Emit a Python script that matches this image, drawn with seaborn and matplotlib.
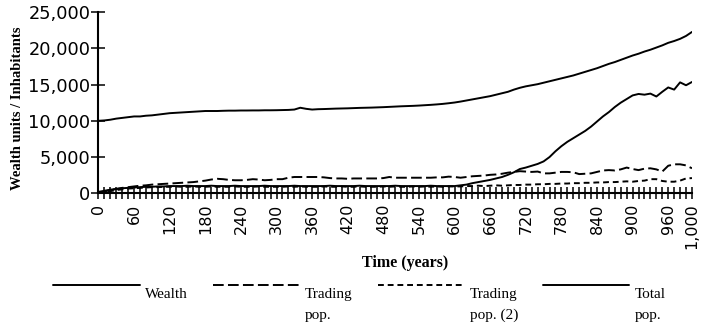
import matplotlib
matplotlib.use("Agg")
import matplotlib.pyplot as plt
from matplotlib.ticker import MultipleLocator
import seaborn as sns

# Simulation output, sampled every 10 years
years = list(range(0, 1001, 10))

wealth = [
    10000, 10050, 10150, 10300, 10400, 10500, 10600, 10600, 10700, 10750,
    10850, 10950, 11050, 11100, 11150, 11200, 11250, 11300, 11350, 11350,
    11350, 11380, 11400, 11400, 11420, 11420, 11430, 11430, 11450, 11450,
    11460, 11480, 11500, 11550, 11800, 11650, 11550, 11600, 11620, 11650,
    11680, 11700, 11720, 11750, 11780, 11800, 11820, 11850, 11880, 11920,
    11960, 12000, 12030, 12060, 12100, 12150, 12200, 12260, 12330, 12420,
    12520, 12650, 12800, 12950, 13100, 13250, 13400, 13600, 13800, 14000,
    14300, 14550, 14750, 14900, 15050, 15250, 15450, 15650, 15850, 16050,
    16250, 16500, 16750, 17000, 17250, 17550, 17850, 18100, 18400, 18700,
    19000, 19250, 19550, 19800, 20100, 20400, 20750, 21000, 21300, 21700,
    22250,
]

trading_pop = [
    0, 250, 450, 600, 750, 850, 950, 1050, 1100, 1200,
    1250, 1300, 1350, 1400, 1450, 1500, 1550, 1650, 1750, 1900,
    2000, 1950, 1850, 1800, 1800, 1850, 1950, 1900, 1800, 1850,
    1950, 1950, 2150, 2250, 2250, 2250, 2250, 2250, 2200, 2100,
    2050, 2050, 2000, 2050, 2050, 2050, 2050, 2050, 2100, 2250,
    2150, 2150, 2150, 2150, 2150, 2150, 2150, 2200, 2200, 2300,
    2250, 2150, 2250, 2350, 2400, 2450, 2550, 2600, 2700, 2850,
    2950, 3050, 3000, 2950, 3000, 2750, 2750, 2850, 2950, 2950,
    2900, 2650, 2700, 2750, 2950, 3150, 3200, 3150, 3300, 3550,
    3350, 3200, 3400, 3450, 3300, 3000, 3800, 4000, 4000, 3850,
    3450,
]

trading_pop_2 = [
    0, 150, 300, 450, 550, 650, 700, 750, 800, 850,
    850, 900, 900, 950, 900, 900, 950, 900, 900, 950,
    900, 900, 900, 950, 900, 900, 900, 950, 900, 900,
    900, 900, 950, 900, 950, 900, 900, 900, 950, 900,
    900, 950, 900, 900, 950, 900, 900, 900, 950, 900,
    950, 900, 900, 950, 900, 950, 900, 950, 900, 950,
    950, 950, 1000, 1000, 1050, 1000, 1050, 1100, 1050, 1100,
    1150, 1150, 1200, 1200, 1250, 1250, 1300, 1300, 1350, 1350,
    1400, 1400, 1450, 1450, 1500, 1500, 1550, 1550, 1600, 1650,
    1600, 1700, 1750, 1950, 1950, 1700, 1600, 1600, 1750, 2050,
    2100,
]

total_pop = [
    200, 350, 500, 600, 700, 750, 800, 850, 900, 900,
    950, 950, 1000, 1000, 1000, 1050, 1000, 1000, 1000, 1050,
    1000, 1000, 1000, 1050, 1000, 1000, 1000, 1000, 1050, 1000,
    1000, 1000, 1000, 1050, 1000, 1000, 1000, 1000, 1000, 1050,
    1000, 1000, 1000, 1000, 1050, 1000, 1000, 1000, 1000, 1000,
    1050, 1000, 1000, 1000, 1000, 1000, 1050, 1000, 1000, 1000,
    1000, 1100, 1200, 1400, 1550, 1700, 1850, 2050, 2250, 2550,
    2900, 3350, 3550, 3800, 4050, 4400, 5000, 5800, 6500, 7100,
    7600, 8100, 8600, 9200, 9900, 10600, 11200, 11900, 12500, 13000,
    13500, 13700, 13600, 13750, 13350, 14000, 14600, 14300, 15300, 14900,
    15350,
]

series_labels = ["Wealth", "Trading\npop.", "Trading\npop. (2)", "Total\npop."]
x_ticks = [0, 60, 120, 180, 240, 300, 360, 420, 480, 540, 600, 660, 720,
           780, 840, 900, 960, 1000]
y_ticks = [0, 5000, 10000, 15000, 20000, 25000]
x_label = "Time (years)"
y_label = "Wealth units / Inhabitants"

sns.set_theme(style="ticks")
plt.rcParams.update({
    "font.family": ["DejaVu Sans"],
    "axes.edgecolor": "black",
    "axes.linewidth": 1.5,
    "text.color": "black",
    "axes.labelcolor": "black",
    "xtick.color": "black",
    "ytick.color": "black",
})

serif_bold = dict(family="Liberation Serif", weight="bold")
serif = dict(family="Liberation Serif")

fig = plt.figure(figsize=(7.05, 3.23), dpi=100)
ax = fig.add_axes([0.1397, 0.4015, 0.8418, 0.5613])

line_styles = ["-", (0, (5.5, 2.2)), (0, (3.0, 2.0)), "-"]
all_series = [wealth, trading_pop, trading_pop_2, total_pop]
for values, ls in zip(all_series, line_styles):
    sns.lineplot(x=years, y=values, ax=ax, color="black", linewidth=1.4,
                 linestyle=ls, legend=False)

sns.despine(ax=ax)
ax.set_xlim(0, 1000)
ax.set_ylim(0, 25000)

ax.set_xticks(x_ticks, labels=[f"{t:,}" for t in x_ticks], rotation=90)
ax.xaxis.set_minor_locator(MultipleLocator(10))
ax.set_yticks(y_ticks, labels=[f"{t:,}" for t in y_ticks])

ax.tick_params(axis="x", which="both", direction="inout", length=8.5,
               width=1.1, pad=3, labelsize=11.5)
ax.tick_params(axis="y", direction="inout", length=9.5, width=1.1,
               pad=1, labelsize=12.8)

ax.set_xlabel(x_label, fontsize=11.5, **serif_bold)
ax.xaxis.set_label_coords(0.516, -0.34)
ax.set_ylabel(y_label, fontsize=10.5, **serif_bold)
ax.yaxis.set_label_coords(-0.125, 0.47)

# Legend: first line of each label beside the handle, second line beneath it
first_lines = [s.split("\n")[0] for s in series_labels]
second_lines = [s.split("\n")[1] if "\n" in s else "" for s in series_labels]
leg = fig.legend(ax.lines[:4], first_lines, loc="upper left",
                 bbox_to_anchor=(0.0752, 0.158), ncol=4, frameon=False,
                 borderpad=0, borderaxespad=0, handlelength=5.69,
                 handletextpad=0.33, columnspacing=1.65, handleheight=4.04,
                 prop=dict(size=11, **serif))

fig.canvas.draw()
W, H = fig.bbox.width, fig.bbox.height
for txt, extra in zip(leg.get_texts(), second_lines):
    if not extra:
        continue
    bb = txt.get_window_extent()
    fig.text(bb.x0 / W, (bb.y0 - 21) / H, extra, ha="left", va="bottom",
             fontsize=11, **serif)

fig.savefig("out.png", dpi=100)
